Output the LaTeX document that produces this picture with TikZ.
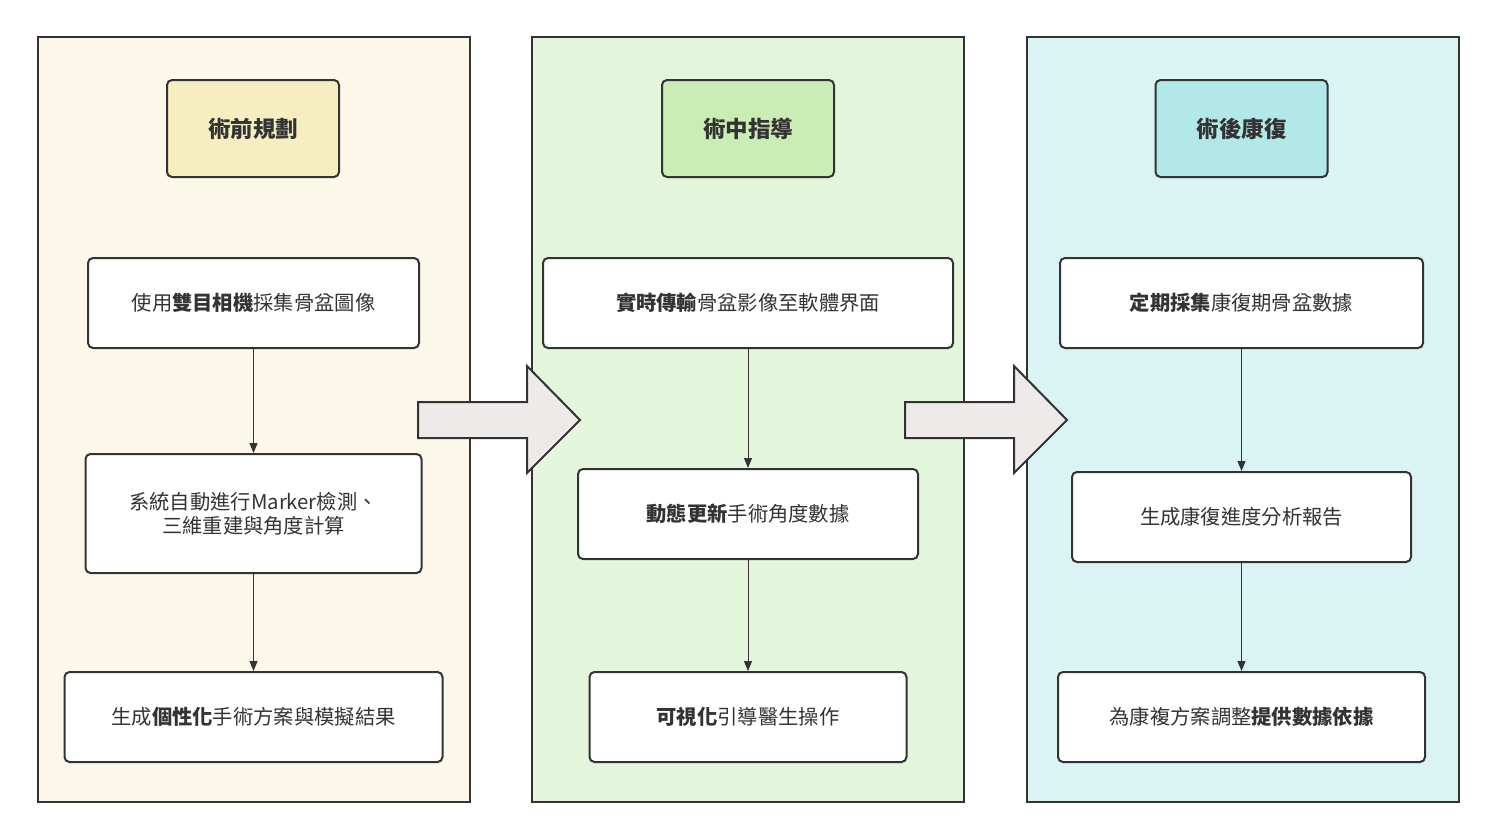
\documentclass[tikz,border=0pt]{standalone}
\usepackage{fontspec}
\setmainfont{Noto Sans CJK TC}
\usetikzlibrary{arrows.meta}
\definecolor{edge}{HTML}{333333}
\definecolor{txt}{HTML}{333333}
\definecolor{panelA}{HTML}{FCF8E9}
\definecolor{headA}{HTML}{F6EDC0}
\definecolor{panelB}{HTML}{E3F5DA}
\definecolor{headB}{HTML}{C9EDB5}
\definecolor{panelC}{HTML}{DAF3F3}
\definecolor{headC}{HTML}{B3E8E8}
\definecolor{arrowfill}{HTML}{EEEAEA}
\tikzset{
  panel/.style={draw=edge, line width=2pt, inner sep=0pt},
  head/.style={draw=edge, line width=2pt, rounded corners=5pt, minimum width=172pt, minimum height=97pt, font=\fontsize{22.5}{26}\selectfont\bfseries, text=txt},
  stepbox/.style={draw=edge, line width=2pt, fill=white, rounded corners=5pt, minimum height=90pt, font=\fontsize{20.3}{24}\selectfont, text=txt, align=center},
  conn/.style={draw=edge, line width=1pt, -{Triangle[length=10pt,width=8pt]}},
  blockarrow/.style={draw=edge, line width=2pt, fill=arrowfill, line join=miter}
}
\begin{document}
\begin{tikzpicture}[x=1pt,y=-1pt]
\useasboundingbox[fill=white] (0,0) rectangle (1495,839);
% panels
\node[panel, fill=panelA, minimum width=432pt, minimum height=765pt] (pA) at (254,419.5) {};
\node[panel, fill=panelB, minimum width=432pt, minimum height=765pt] (pB) at (748,419.5) {};
\node[panel, fill=panelC, minimum width=432pt, minimum height=765pt] (pC) at (1243,419.5) {};
% headers
\node[head, fill=headA] (hA) at (253,128.5) {術前規劃};
\node[head, fill=headB] (hB) at (748,128.5) {術中指導};
\node[head, fill=headC] (hC) at (1241.5,128.5) {術後康復};
% column A
\node[stepbox, minimum width=331pt] (a1) at (253.5,303) {使用\textbf{雙目相機}採集骨盆圖像};
\node[stepbox, minimum width=336pt, minimum height=119pt] (a2) at (253.5,513.5) {系統自動進行Marker檢測、\\三維重建與角度計算};
\node[stepbox, minimum width=378pt] (a3) at (253.5,717) {生成\textbf{個性化}手術方案與模擬結果};
% column B
\node[stepbox, minimum width=410pt] (b1) at (748,303) {\textbf{實時傳輸}骨盆影像至軟體界面};
\node[stepbox, minimum width=340pt] (b2) at (748,514) {\textbf{動態更新}手術角度數據};
\node[stepbox, minimum width=317pt] (b3) at (748,717) {\textbf{可視化}引導醫生操作};
% column C
\node[stepbox, minimum width=363pt] (c1) at (1241.5,303) {\textbf{定期採集}康復期骨盆數據};
\node[stepbox, minimum width=339pt] (c2) at (1241.5,517) {生成康復進度分析報告};
\node[stepbox, minimum width=367pt] (c3) at (1241.5,717) {為康複方案調整\textbf{提供數據依據}};
% connectors
\draw[conn] (a1) -- (a2);
\draw[conn] (a2) -- (a3);
\draw[conn] (b1) -- (b2);
\draw[conn] (b2) -- (b3);
\draw[conn] (c1) -- (c2);
\draw[conn] (c2) -- (c3);
% block arrows
\draw[blockarrow] (418,402) -- (527,402) -- (527,366) -- (580,420) -- (527,473) -- (527,438) -- (418,438) -- cycle;
\draw[blockarrow] (905,402) -- (1014,402) -- (1014,366) -- (1067,420) -- (1014,473) -- (1014,438) -- (905,438) -- cycle;
\end{tikzpicture}
\end{document}
